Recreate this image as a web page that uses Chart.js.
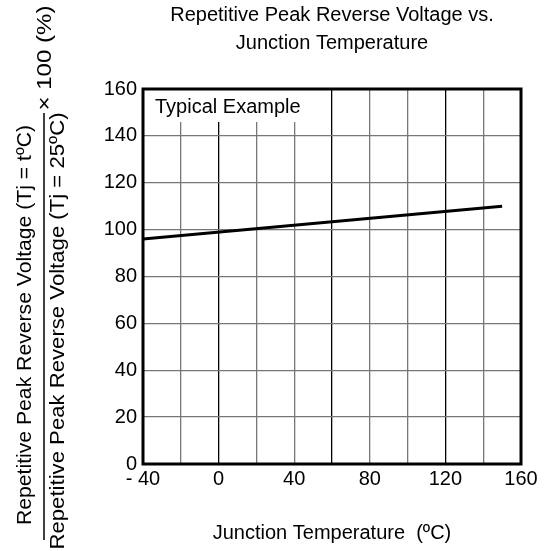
<!DOCTYPE html>
<html>
<head>
<meta charset="utf-8">
<script src="https://cdn.jsdelivr.net/npm/chart.js@4/dist/chart.umd.min.js"></script>
<style>
  html, body { margin: 0; padding: 0; background: #fff; }
  #wrap { width: 547px; height: 551px; }
</style>
</head>
<body>
<div id="wrap"><canvas id="vrChart" width="547" height="551"></canvas></div>
<script>
// -------- DATA --------
const temps = [-40, 150];          // junction temperature (ºC)
const ratio = [96, 110];           // VRRM(t) / VRRM(25ºC) x 100 (%)
const xTickLabels = [-40, 0, 40, 80, 120, 160];
const yTickLabels = [0, 20, 40, 60, 80, 100, 120, 140, 160];
const darkGridX = [0, 60, 120];

const FONT = "'Liberation Sans', Arial, sans-serif";

// -------- TEXT + FRAME PLUGIN --------
function fitText(ctx, text, cx, cy, len, rotate) {
  ctx.save();
  ctx.translate(cx, cy);
  if (rotate) ctx.rotate(-Math.PI / 2);
  const w = ctx.measureText(text).width;
  ctx.scale(len / w, 1);
  ctx.fillText(text, 0, 0);
  ctx.restore();
}

const decorPlugin = {
  id: "decor",
  beforeDatasetsDraw(chart) {
    const { ctx, chartArea: a } = chart;
    ctx.save();
    ctx.fillStyle = "#fff";
    ctx.fillRect(a.left + 1, a.top + 1, 168, 32);
    ctx.fillStyle = "#000";
    ctx.font = "20px " + FONT;
    ctx.textBaseline = "alphabetic";
    ctx.textAlign = "left";
    ctx.fillText("Typical Example", a.left + 12, a.top + 24);
    ctx.restore();
  },
  afterDraw(chart) {
    const { ctx, chartArea: a } = chart;
    ctx.save();
    ctx.strokeStyle = "#000";
    ctx.lineWidth = 3;
    ctx.strokeRect(a.left, a.top, a.right - a.left, a.bottom - a.top);

    ctx.fillStyle = "#000";
    ctx.font = "20px " + FONT;
    ctx.textAlign = "center";
    ctx.textBaseline = "middle";

    // x axis title
    ctx.fillText("Junction Temperature  (ºC)", (a.left + a.right) / 2, 533);

    // y axis title: fraction x 100 (%)
    fitText(ctx, "Repetitive Peak Reverse Voltage (Tj = tºC)", 25, 325, 400, true);
    fitText(ctx, "Repetitive Peak Reverse Voltage (Tj = 25ºC)", 58, 331, 437, true);
    ctx.lineWidth = 1.5;
    ctx.beginPath();
    ctx.moveTo(44, 540);
    ctx.lineTo(44, 113);
    ctx.stroke();
    fitText(ctx, "× 100 (%)", 45, 58, 105, true);
    ctx.restore();
  }
};

// -------- CHART --------
const ctx = document.getElementById("vrChart").getContext("2d");
const chart = new Chart(ctx, {
  type: "line",
  data: {
    datasets: [
      {
        data: temps.map((t, i) => ({ x: t, y: ratio[i] })),
        borderColor: "#000",
        borderWidth: 3,
        pointRadius: 0,
        fill: false,
        tension: 0
      }
    ]
  },
  options: {
    responsive: false,
    animation: false,
    layout: { autoPadding: false, padding: { left: 0, right: 26, top: 0, bottom: 0 } },
    plugins: {
      legend: { display: false },
      tooltip: { enabled: false },
      title: {
        display: true,
        fullSize: false,
        text: ["Repetitive Peak Reverse Voltage vs.", "Junction Temperature"],
        color: "#000",
        font: { family: FONT, size: 20, weight: "normal", lineHeight: 1.4 },
        padding: { top: 1, bottom: 32 }
      }
    },
    scales: {
      x: {
        type: "linear",
        min: -40,
        max: 160,
        afterFit: (s) => { s.height = 87; },
        afterBuildTicks: (s) => {
          s.ticks = [];
          for (let v = -40; v <= 160; v += 20) s.ticks.push({ value: v });
        },
        border: { display: false },
        grid: {
          drawTicks: false,
          tickLength: 0,
          lineWidth: 1.3,
          color: (c) => (darkGridX.includes(c.tick.value) ? "#000" : "#777")
        },
        ticks: {
          autoSkip: false,
          maxRotation: 0,
          padding: 3,
          color: "#000",
          font: { family: FONT, size: 20 },
          callback: (v) => (xTickLabels.includes(v) ? (v < 0 ? "- " + Math.abs(v) : String(v)) : "")
        }
      },
      y: {
        min: 0,
        max: 160,
        afterFit: (s) => { s.width = 143; },
        afterBuildTicks: (s) => { s.ticks = yTickLabels.map((v) => ({ value: v })); },
        border: { display: false },
        grid: { drawTicks: false, tickLength: 0, lineWidth: 1.3, color: "#777" },
        ticks: {
          padding: 6,
          color: "#000",
          font: { family: FONT, size: 20 }
        }
      }
    }
  },
  plugins: [decorPlugin]
});
</script>
</body>
</html>
